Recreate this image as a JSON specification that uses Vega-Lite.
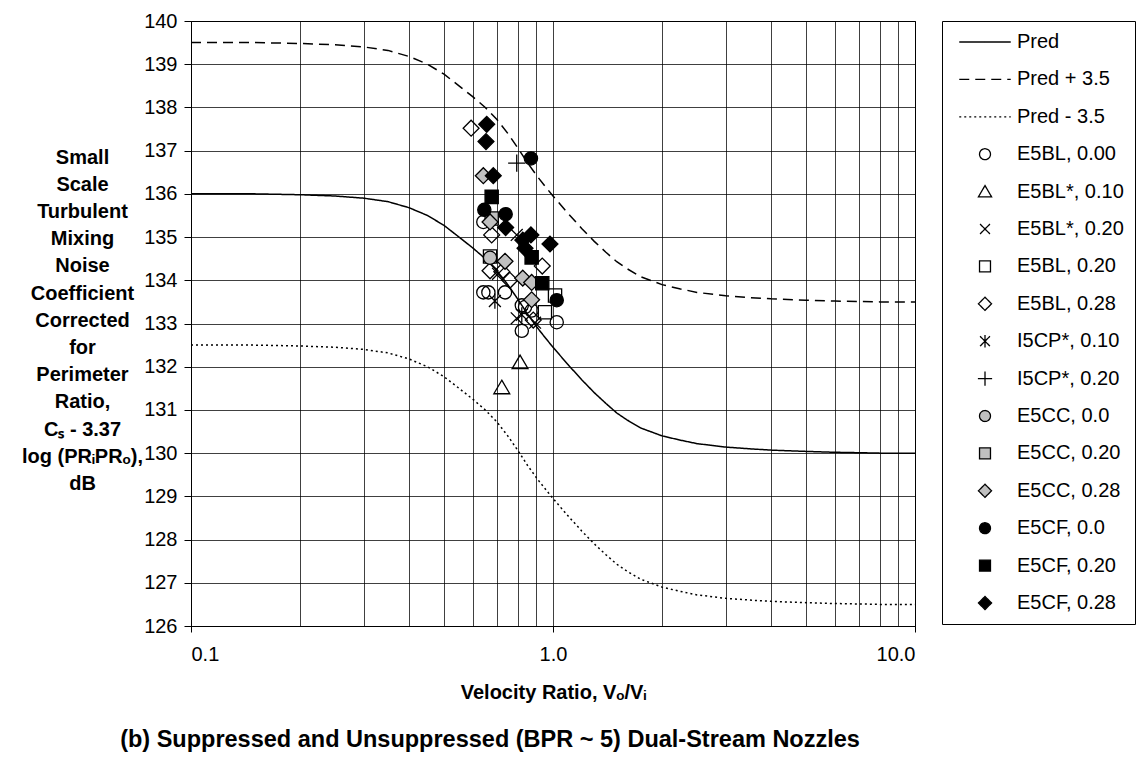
{
  "$schema": "https://vega.github.io/schema/vega-lite/v6.json",
  "width": 724,
  "height": 605,
  "autosize": {"type": "none"},
  "padding": {"left": 191, "top": 21, "right": 229, "bottom": 146},
  "background": "white",
  "title": {
    "text": "(b) Suppressed and Unsuppressed (BPR ~ 5) Dual-Stream Nozzles",
    "orient": "bottom",
    "anchor": "middle",
    "frame": "group",
    "font": "Liberation Sans",
    "fontSize": 23.5,
    "fontWeight": "bold",
    "color": "#000",
    "offset": 26,
    "dx": -63
  },
  "datasets": {
    "curves": [
      {"series": "Pred", "vr": 0.1, "cs": 136.0},
      {"series": "Pred", "vr": 0.15, "cs": 136.0},
      {"series": "Pred", "vr": 0.2, "cs": 135.98},
      {"series": "Pred", "vr": 0.25, "cs": 135.95},
      {"series": "Pred", "vr": 0.3, "cs": 135.9},
      {"series": "Pred", "vr": 0.35, "cs": 135.82},
      {"series": "Pred", "vr": 0.4, "cs": 135.68},
      {"series": "Pred", "vr": 0.45, "cs": 135.5},
      {"series": "Pred", "vr": 0.5, "cs": 135.27},
      {"series": "Pred", "vr": 0.55, "cs": 135.0},
      {"series": "Pred", "vr": 0.6, "cs": 134.75},
      {"series": "Pred", "vr": 0.65, "cs": 134.5},
      {"series": "Pred", "vr": 0.7, "cs": 134.22},
      {"series": "Pred", "vr": 0.75, "cs": 133.9},
      {"series": "Pred", "vr": 0.8, "cs": 133.56},
      {"series": "Pred", "vr": 0.85, "cs": 133.22},
      {"series": "Pred", "vr": 0.9, "cs": 132.93},
      {"series": "Pred", "vr": 0.95, "cs": 132.68},
      {"series": "Pred", "vr": 1.0, "cs": 132.45},
      {"series": "Pred", "vr": 1.1, "cs": 132.05},
      {"series": "Pred", "vr": 1.2, "cs": 131.7},
      {"series": "Pred", "vr": 1.3, "cs": 131.4},
      {"series": "Pred", "vr": 1.4, "cs": 131.15},
      {"series": "Pred", "vr": 1.5, "cs": 130.93},
      {"series": "Pred", "vr": 1.6, "cs": 130.77},
      {"series": "Pred", "vr": 1.75, "cs": 130.58},
      {"series": "Pred", "vr": 2.0, "cs": 130.4},
      {"series": "Pred", "vr": 2.25, "cs": 130.3},
      {"series": "Pred", "vr": 2.5, "cs": 130.22},
      {"series": "Pred", "vr": 3.0, "cs": 130.14},
      {"series": "Pred", "vr": 3.5, "cs": 130.1},
      {"series": "Pred", "vr": 4.0, "cs": 130.07},
      {"series": "Pred", "vr": 5.0, "cs": 130.04},
      {"series": "Pred", "vr": 6.0, "cs": 130.02},
      {"series": "Pred", "vr": 7.0, "cs": 130.01},
      {"series": "Pred", "vr": 8.0, "cs": 130.0},
      {"series": "Pred", "vr": 10.0, "cs": 130.0},
      {"series": "Pred + 3.5", "vr": 0.1, "cs": 139.5},
      {"series": "Pred + 3.5", "vr": 0.15, "cs": 139.5},
      {"series": "Pred + 3.5", "vr": 0.2, "cs": 139.48},
      {"series": "Pred + 3.5", "vr": 0.25, "cs": 139.45},
      {"series": "Pred + 3.5", "vr": 0.3, "cs": 139.4},
      {"series": "Pred + 3.5", "vr": 0.35, "cs": 139.32},
      {"series": "Pred + 3.5", "vr": 0.4, "cs": 139.18},
      {"series": "Pred + 3.5", "vr": 0.45, "cs": 139.0},
      {"series": "Pred + 3.5", "vr": 0.5, "cs": 138.77},
      {"series": "Pred + 3.5", "vr": 0.55, "cs": 138.5},
      {"series": "Pred + 3.5", "vr": 0.6, "cs": 138.25},
      {"series": "Pred + 3.5", "vr": 0.65, "cs": 138.0},
      {"series": "Pred + 3.5", "vr": 0.7, "cs": 137.72},
      {"series": "Pred + 3.5", "vr": 0.75, "cs": 137.4},
      {"series": "Pred + 3.5", "vr": 0.8, "cs": 137.06},
      {"series": "Pred + 3.5", "vr": 0.85, "cs": 136.72},
      {"series": "Pred + 3.5", "vr": 0.9, "cs": 136.43},
      {"series": "Pred + 3.5", "vr": 0.95, "cs": 136.18},
      {"series": "Pred + 3.5", "vr": 1.0, "cs": 135.95},
      {"series": "Pred + 3.5", "vr": 1.1, "cs": 135.55},
      {"series": "Pred + 3.5", "vr": 1.2, "cs": 135.2},
      {"series": "Pred + 3.5", "vr": 1.3, "cs": 134.9},
      {"series": "Pred + 3.5", "vr": 1.4, "cs": 134.65},
      {"series": "Pred + 3.5", "vr": 1.5, "cs": 134.43},
      {"series": "Pred + 3.5", "vr": 1.6, "cs": 134.27},
      {"series": "Pred + 3.5", "vr": 1.75, "cs": 134.08},
      {"series": "Pred + 3.5", "vr": 2.0, "cs": 133.9},
      {"series": "Pred + 3.5", "vr": 2.25, "cs": 133.8},
      {"series": "Pred + 3.5", "vr": 2.5, "cs": 133.72},
      {"series": "Pred + 3.5", "vr": 3.0, "cs": 133.64},
      {"series": "Pred + 3.5", "vr": 3.5, "cs": 133.6},
      {"series": "Pred + 3.5", "vr": 4.0, "cs": 133.57},
      {"series": "Pred + 3.5", "vr": 5.0, "cs": 133.54},
      {"series": "Pred + 3.5", "vr": 6.0, "cs": 133.52},
      {"series": "Pred + 3.5", "vr": 7.0, "cs": 133.51},
      {"series": "Pred + 3.5", "vr": 8.0, "cs": 133.5},
      {"series": "Pred + 3.5", "vr": 10.0, "cs": 133.5},
      {"series": "Pred - 3.5", "vr": 0.1, "cs": 132.5},
      {"series": "Pred - 3.5", "vr": 0.15, "cs": 132.5},
      {"series": "Pred - 3.5", "vr": 0.2, "cs": 132.48},
      {"series": "Pred - 3.5", "vr": 0.25, "cs": 132.45},
      {"series": "Pred - 3.5", "vr": 0.3, "cs": 132.4},
      {"series": "Pred - 3.5", "vr": 0.35, "cs": 132.32},
      {"series": "Pred - 3.5", "vr": 0.4, "cs": 132.18},
      {"series": "Pred - 3.5", "vr": 0.45, "cs": 132.0},
      {"series": "Pred - 3.5", "vr": 0.5, "cs": 131.77},
      {"series": "Pred - 3.5", "vr": 0.55, "cs": 131.5},
      {"series": "Pred - 3.5", "vr": 0.6, "cs": 131.25},
      {"series": "Pred - 3.5", "vr": 0.65, "cs": 131.0},
      {"series": "Pred - 3.5", "vr": 0.7, "cs": 130.72},
      {"series": "Pred - 3.5", "vr": 0.75, "cs": 130.4},
      {"series": "Pred - 3.5", "vr": 0.8, "cs": 130.06},
      {"series": "Pred - 3.5", "vr": 0.85, "cs": 129.72},
      {"series": "Pred - 3.5", "vr": 0.9, "cs": 129.43},
      {"series": "Pred - 3.5", "vr": 0.95, "cs": 129.18},
      {"series": "Pred - 3.5", "vr": 1.0, "cs": 128.95},
      {"series": "Pred - 3.5", "vr": 1.1, "cs": 128.55},
      {"series": "Pred - 3.5", "vr": 1.2, "cs": 128.2},
      {"series": "Pred - 3.5", "vr": 1.3, "cs": 127.9},
      {"series": "Pred - 3.5", "vr": 1.4, "cs": 127.65},
      {"series": "Pred - 3.5", "vr": 1.5, "cs": 127.43},
      {"series": "Pred - 3.5", "vr": 1.6, "cs": 127.27},
      {"series": "Pred - 3.5", "vr": 1.75, "cs": 127.08},
      {"series": "Pred - 3.5", "vr": 2.0, "cs": 126.9},
      {"series": "Pred - 3.5", "vr": 2.25, "cs": 126.8},
      {"series": "Pred - 3.5", "vr": 2.5, "cs": 126.72},
      {"series": "Pred - 3.5", "vr": 3.0, "cs": 126.64},
      {"series": "Pred - 3.5", "vr": 3.5, "cs": 126.6},
      {"series": "Pred - 3.5", "vr": 4.0, "cs": 126.57},
      {"series": "Pred - 3.5", "vr": 5.0, "cs": 126.54},
      {"series": "Pred - 3.5", "vr": 6.0, "cs": 126.52},
      {"series": "Pred - 3.5", "vr": 7.0, "cs": 126.51},
      {"series": "Pred - 3.5", "vr": 8.0, "cs": 126.5},
      {"series": "Pred - 3.5", "vr": 10.0, "cs": 126.5}
    ],
    "pts": [
      {"series": "E5BL, 0.00", "vr": 0.642, "cs": 135.35},
      {"series": "E5BL, 0.00", "vr": 0.642, "cs": 133.72},
      {"series": "E5BL, 0.00", "vr": 0.663, "cs": 133.72},
      {"series": "E5BL, 0.00", "vr": 0.737, "cs": 133.72},
      {"series": "E5BL, 0.00", "vr": 0.82, "cs": 133.42},
      {"series": "E5BL, 0.00", "vr": 0.837, "cs": 133.38},
      {"series": "E5BL, 0.00", "vr": 0.873, "cs": 133.3},
      {"series": "E5BL, 0.00", "vr": 1.024, "cs": 133.03},
      {"series": "E5BL, 0.00", "vr": 0.82, "cs": 132.83},
      {"series": "E5BL*, 0.10", "vr": 0.811, "cs": 132.1},
      {"series": "E5BL*, 0.10", "vr": 0.722, "cs": 131.52},
      {"series": "E5BL*, 0.20", "vr": 0.794, "cs": 135.05},
      {"series": "E5BL*, 0.20", "vr": 0.705, "cs": 134.15},
      {"series": "E5BL*, 0.20", "vr": 0.794, "cs": 133.12},
      {"series": "E5BL*, 0.20", "vr": 0.892, "cs": 133.02},
      {"series": "E5BL, 0.20", "vr": 1.013, "cs": 133.65},
      {"series": "E5BL, 0.20", "vr": 0.95, "cs": 133.26},
      {"series": "E5BL, 0.20", "vr": 0.67, "cs": 134.55},
      {"series": "E5BL, 0.28", "vr": 0.594, "cs": 137.52},
      {"series": "E5BL, 0.28", "vr": 0.677, "cs": 135.05},
      {"series": "E5BL, 0.28", "vr": 0.934, "cs": 134.33},
      {"series": "E5BL, 0.28", "vr": 0.67, "cs": 134.22},
      {"series": "E5BL, 0.28", "vr": 0.722, "cs": 134.2},
      {"series": "E5BL, 0.28", "vr": 0.76, "cs": 134.0},
      {"series": "E5BL, 0.28", "vr": 0.882, "cs": 133.08},
      {"series": "I5CP*, 0.10", "vr": 0.691, "cs": 133.52},
      {"series": "I5CP*, 0.10", "vr": 0.82, "cs": 133.2},
      {"series": "I5CP*, 0.20", "vr": 0.794, "cs": 136.71},
      {"series": "E5CC, 0.0", "vr": 0.67, "cs": 134.52},
      {"series": "E5CC, 0.20", "vr": 0.677, "cs": 135.43},
      {"series": "E5CC, 0.28", "vr": 0.642, "cs": 136.42},
      {"series": "E5CC, 0.28", "vr": 0.67, "cs": 135.35},
      {"series": "E5CC, 0.28", "vr": 0.737, "cs": 134.44},
      {"series": "E5CC, 0.28", "vr": 0.825, "cs": 134.05},
      {"series": "E5CC, 0.28", "vr": 0.873, "cs": 133.95},
      {"series": "E5CC, 0.28", "vr": 0.873, "cs": 133.55},
      {"series": "E5CF, 0.0", "vr": 0.869, "cs": 136.82},
      {"series": "E5CF, 0.0", "vr": 0.646, "cs": 135.63},
      {"series": "E5CF, 0.0", "vr": 0.74, "cs": 135.53},
      {"series": "E5CF, 0.0", "vr": 1.024, "cs": 133.54},
      {"series": "E5CF, 0.20", "vr": 0.677, "cs": 135.93},
      {"series": "E5CF, 0.20", "vr": 0.873, "cs": 134.53},
      {"series": "E5CF, 0.20", "vr": 0.934, "cs": 133.93},
      {"series": "E5CF, 0.28", "vr": 0.656, "cs": 137.61},
      {"series": "E5CF, 0.28", "vr": 0.653, "cs": 137.21},
      {"series": "E5CF, 0.28", "vr": 0.684, "cs": 136.42},
      {"series": "E5CF, 0.28", "vr": 0.74, "cs": 135.22},
      {"series": "E5CF, 0.28", "vr": 0.869, "cs": 135.05},
      {"series": "E5CF, 0.28", "vr": 0.981, "cs": 134.84},
      {"series": "E5CF, 0.28", "vr": 0.825, "cs": 134.93},
      {"series": "E5CF, 0.28", "vr": 0.837, "cs": 134.74}
    ]
  },
  "layer": [
    {
      "data": {"name": "curves"},
      "mark": {"type": "line", "color": "#000", "strokeWidth": 1.5, "clip": true},
      "encoding": {
        "x": {
          "field": "vr", "type": "quantitative",
          "scale": {"type": "log", "domain": [0.1, 10]},
          "axis": {
            "values": [0.1, 0.2, 0.3, 0.4, 0.5, 0.6, 0.7, 0.8, 0.9, 1, 2, 3, 4, 5, 6, 7, 8, 9, 10],
            "labelExpr": "datum.value == 0.1 ? '0.1' : (datum.value == 1 ? '1.0' : (datum.value == 10 ? '10.0' : ''))",
            "labelOverlap": false,
            "tickSize": 6,
            "tickOpacity": {"condition": {"test": "datum.value == 0.1 || datum.value == 1 || datum.value == 10", "value": 1}, "value": 0},
            "labelPadding": 12,
            "title": "Velocity Ratio, Vₒ/Vᵢ",
            "titlePadding": 18,
            "grid": true
          }
        },
        "y": {
          "field": "cs", "type": "quantitative",
          "scale": {"domain": [126, 140]},
          "axis": {
            "values": [126, 127, 128, 129, 130, 131, 132, 133, 134, 135, 136, 137, 138, 139, 140],
            "tickSize": 7,
            "labelPadding": 7,
            "grid": true,
            "title": ["Small", "Scale", "Turbulent", "Mixing", "Noise", "Coefficient", "Corrected", "for", "Perimeter", "Ratio,", "Cₛ - 3.37", "log (PRᵢPRₒ),", "dB"],
            "titleAngle": 0,
            "titleAlign": "center",
            "titleBaseline": "top",
            "titleX": -109,
            "titleY": 126,
            "titleLineHeight": 27.2
          }
        },
        "strokeDash": {
          "field": "series", "type": "nominal",
          "scale": {
            "domain": ["Pred", "Pred + 3.5", "Pred - 3.5", "E5BL, 0.00", "E5BL*, 0.10", "E5BL*, 0.20", "E5BL, 0.20", "E5BL, 0.28", "I5CP*, 0.10", "I5CP*, 0.20", "E5CC, 0.0", "E5CC, 0.20", "E5CC, 0.28", "E5CF, 0.0", "E5CF, 0.20", "E5CF, 0.28"],
            "range": [[1, 0], [10, 6], [2, 3], [1, 0], [1, 0], [1, 0], [1, 0], [1, 0], [1, 0], [1, 0], [1, 0], [1, 0], [1, 0], [1, 0], [1, 0], [1, 0]]
          },
          "legend": {"title": null}
        }
      }
    },
    {
      "data": {"name": "pts"},
      "mark": {"type": "point", "stroke": "#000", "strokeWidth": 1.3, "opacity": 1, "size": 175},
      "encoding": {
        "x": {"field": "vr", "type": "quantitative", "scale": {"type": "log", "domain": [0.1, 10]}},
        "y": {"field": "cs", "type": "quantitative", "scale": {"domain": [126, 140]}},
        "shape": {
          "field": "series", "type": "nominal",
          "scale": {
            "domain": ["Pred", "Pred + 3.5", "Pred - 3.5", "E5BL, 0.00", "E5BL*, 0.10", "E5BL*, 0.20", "E5BL, 0.20", "E5BL, 0.28", "I5CP*, 0.10", "I5CP*, 0.20", "E5CC, 0.0", "E5CC, 0.20", "E5CC, 0.28", "E5CF, 0.0", "E5CF, 0.20", "E5CF, 0.28"],
            "range": ["M-4.7,0H4.7", "M-4.7,0H4.7", "M-4.7,0H4.7", "circle", "M0,-1.1L1.2,0.95L-1.2,0.95Z", "M-0.9,-0.9L0.9,0.9M-0.9,0.9L0.9,-0.9", "square", "M-1.2,0L0,-1.2L1.2,0L0,1.2Z", "M-0.9,-0.9L0.9,0.9M-0.9,0.9L0.9,-0.9M0,-1.15V1.15", "M-1.3,0H1.3M0,-1.3V1.3", "circle", "square", "M-1.2,0L0,-1.2L1.2,0L0,1.2Z", "circle", "square", "M-1.2,0L0,-1.2L1.2,0L0,1.2Z"]
          },
          "legend": {"title": null}
        },
        "fill": {
          "field": "series", "type": "nominal",
          "scale": {
            "domain": ["Pred", "Pred + 3.5", "Pred - 3.5", "E5BL, 0.00", "E5BL*, 0.10", "E5BL*, 0.20", "E5BL, 0.20", "E5BL, 0.28", "I5CP*, 0.10", "I5CP*, 0.20", "E5CC, 0.0", "E5CC, 0.20", "E5CC, 0.28", "E5CF, 0.0", "E5CF, 0.20", "E5CF, 0.28"],
            "range": ["transparent", "transparent", "transparent", "transparent", "transparent", "transparent", "transparent", "transparent", "transparent", "transparent", "#c0c0c0", "#c0c0c0", "#c0c0c0", "#000000", "#000000", "#000000"]
          },
          "legend": {"title": null}
        }
      }
    }
  ],
  "config": {
    "view": {"stroke": "#000", "strokeWidth": 1},
    "axis": {
      "labelFont": "Liberation Sans",
      "labelFontSize": 20,
      "labelColor": "#000",
      "titleFont": "Liberation Sans",
      "titleFontSize": 20,
      "titleFontWeight": "bold",
      "titleColor": "#000",
      "domainColor": "#000",
      "domainWidth": 1,
      "tickColor": "#000",
      "tickWidth": 1,
      "gridColor": "#000",
      "gridOpacity": 0.75,
      "gridWidth": 1
    },
    "legend": {
      "orient": "right",
      "offset": 27,
      "padding": 11,
      "strokeColor": "#000",
      "strokeWidth": 1,
      "labelFont": "Liberation Sans",
      "labelFontSize": 20,
      "labelColor": "#000",
      "labelLimit": 300,
      "symbolSize": 120,
      "symbolStrokeWidth": 1.3,
      "symbolStrokeColor": "#000",
      "symbolFillColor": "transparent",
      "symbolOffset": 22,
      "labelOffset": 22,
      "rowPadding": 17.4
    }
  }
}
